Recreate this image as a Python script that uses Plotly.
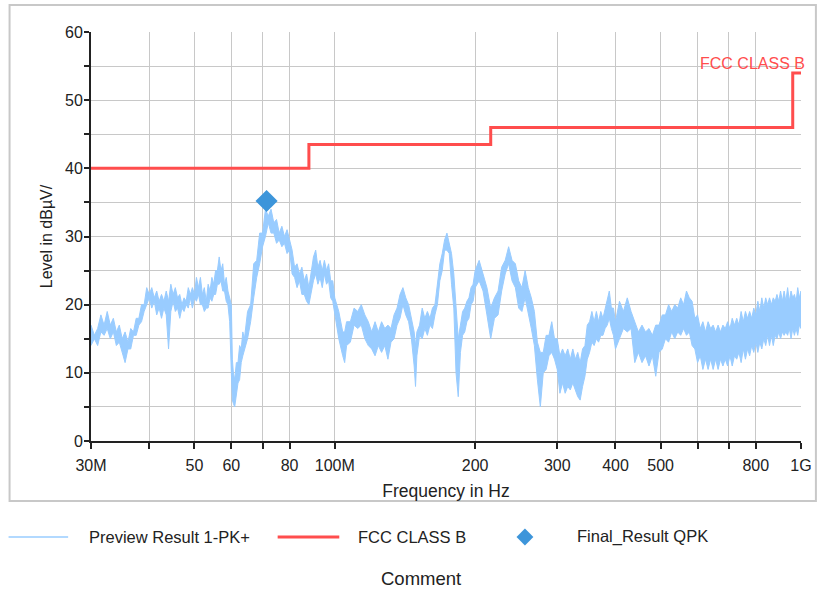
import plotly.graph_objects as go

# Preview Result 1-PK+ : the noisy trace read off the chart as a band,
# upper and lower level (dBuV) at each frequency (MHz)
preview_freq_mhz = [
    30, 30.5, 31, 31.5, 32, 32.5, 33, 33.5, 34, 34.5, 35, 35.5, 36, 36.5, 37, 37.5,
    38, 38.5, 39, 39.5, 40, 40.5, 41, 41.5, 42, 42.5, 43, 43.5, 44, 44.5, 45, 45.5,
    46, 46.5, 47, 47.5, 48, 48.5, 49, 49.5, 50, 50.5, 51, 51.5, 52, 52.5, 53, 53.5,
    54, 54.5, 55, 55.5, 56, 56.5, 57, 57.5, 58, 58.5, 59, 59.5, 60,
    60.3, 60.6, 61, 61.5, 62, 62.5, 63, 63.5, 64, 65, 66, 67, 68, 69, 70, 71, 72,
    73, 74, 75, 76, 77, 78, 79, 80, 81, 82, 83, 84, 85, 86, 87, 88, 89, 90, 91, 92,
    93, 94, 95, 96, 97, 98, 99, 100,
    102, 104, 105, 106, 108, 110, 112, 114, 116, 118, 120, 122, 124, 126, 128, 130,
    132, 134, 136, 138, 140, 142, 144, 146, 148, 149, 150, 152, 154, 156, 158, 160,
    162, 164, 166, 168, 170, 172, 174, 176, 178, 180, 182, 184, 186, 188, 190, 192,
    194, 196, 198, 200,
    204, 208, 212, 216, 220, 224, 228, 232, 236, 240, 244, 248, 252, 256, 260, 264,
    268, 272, 276, 280, 284, 288, 292, 296, 300, 304, 308, 312, 316, 320, 324, 328,
    332, 336, 340, 344, 348, 352, 356, 360, 364, 368, 372, 376, 380, 384, 388, 392,
    396, 400,
    408, 416, 424, 432, 440, 448, 456, 464, 472, 480, 488, 496, 504, 512, 520, 528,
    536, 544, 552, 560, 568, 576, 584, 592, 600, 608, 616, 624, 632, 640, 648, 656,
    664, 672, 680, 688, 696, 704, 712, 720, 728, 736, 744, 752, 760, 768, 776, 784,
    792, 800, 808, 816, 824, 832, 840, 848, 856, 864, 872, 880, 888, 896, 904, 912,
    920, 928, 936, 944, 952, 960, 968, 976, 984, 992, 1000,
]
preview_upper = [
    17, 15.5, 16.5, 18.5, 17, 19, 17, 18, 16, 17, 15, 16, 14.5, 16.5, 16, 18,
    18, 20, 20, 22.5, 21.5, 22.5, 21, 22, 20.5, 21.5, 20.5, 22, 20.5, 23, 21.5, 22.5,
    21, 21.5, 20, 21, 20.5, 22.5, 21.5, 22.5, 21.5, 24, 22.5, 24, 21.5, 22.5, 20.5, 23,
    22, 24, 23, 25, 25, 27, 25, 26, 23, 24, 22, 21, 20,
    12, 10, 9, 11.5, 11.5, 14, 13.5, 16, 15, 19, 20, 26, 26.5, 30.5, 30.5, 34, 33,
    34, 32, 32.5, 30.5, 31.5, 30, 31, 29.5, 28, 25.5, 26, 24.5, 25.5, 23.5, 24.5, 22.5, 25,
    27, 28, 25.5, 26.5, 25, 26.5, 25, 26, 23.5, 23.5, 21,
    19, 16, 16, 17.5, 17.5, 19.5, 19, 20, 18.5, 17.5, 16, 17.5, 16, 17.5, 16.5, 17,
    16.5, 18.5, 19.5, 21.5, 22.5, 21, 20, 18, 16, 14, 16, 17, 19.5, 18, 19, 18,
    19.5, 20, 23, 26, 27.5, 29.5, 30.5, 29, 27.5, 24.5, 19, 15, 17, 19, 19.5, 20.5,
    21, 22.5, 23, 25,
    26.5, 24.5, 22.5, 19.5, 21, 22, 25.5, 26.5, 28.5, 26.5, 26, 23.5, 22.5, 25, 22.5, 21,
    19, 14.5, 13, 13, 15.5, 15.5, 17.5, 15, 15, 12.5, 13.5, 12.5, 13.5, 12, 13.5, 12,
    13, 11.5, 13.5, 14, 17, 17.5, 19, 17.5, 19, 17.5, 19, 18, 19.5, 20.5, 22, 19.5,
    19.5, 17.5,
    20.5, 19, 21, 19, 17.5, 16, 17, 16, 16.5, 15.5, 17, 17, 18.5, 18.5, 20, 19,
    20, 19.5, 21, 20, 22, 21, 20.5, 18, 18.5, 16.5, 17.5, 16, 17.5, 16.5, 17, 16,
    17, 16, 17, 16.5, 17.5, 16.5, 18, 17, 18, 17, 19, 17.5, 19, 18, 19, 18,
    19.5, 18.5, 20.5, 19, 21, 19.5, 21, 20, 21, 20, 21, 20.5, 21.5, 20.5, 22, 20.5,
    22, 20.5, 22.5, 20.5, 22, 21, 21.5, 20.5, 22.5, 21, 22,
]
preview_lower = [
    14, 15, 14, 16, 15.5, 16.5, 15, 16, 14, 14.5, 13, 11.5, 13.5, 13.5, 15.5, 15.5,
    17, 17.5, 19, 20, 21, 19.5, 20.5, 18.5, 19.5, 18, 19.5, 18.5, 13.5, 19, 20.5, 19,
    19.5, 18, 19.5, 19, 20, 19.5, 21, 19.5, 21, 20.5, 21.5, 20, 20, 19, 19.5, 19.5,
    21, 20.5, 21.5, 21.5, 23, 23, 23.5, 22, 22, 20.5, 20, 17.5, 10,
    6, 5.5, 5, 6.5, 8.5, 9, 11.5, 12.5, 13.5, 15, 17.5, 21, 24, 26, 28.5, 30, 32,
    30.5, 30.5, 29, 29.5, 28.5, 29, 27.5, 28, 24.5, 24, 22.5, 23.5, 21.5, 21.5, 20.5, 20, 21.5,
    23.5, 24.5, 23, 24, 22.5, 24.5, 23, 23.5, 21, 20.5, 18.5,
    15, 12.5, 11.5, 14, 14.5, 17, 16.5, 17, 15, 14, 13.5, 12.5, 14, 13, 14, 12,
    14.5, 15, 17, 18, 20, 18.5, 17.5, 15, 11, 8, 12.5, 15.5, 15, 16.5, 15.5, 17,
    16.5, 18.5, 20, 23.5, 25, 28, 28, 27.5, 23, 19.5, 10, 6.5, 13, 15.5, 16, 17.5,
    18, 20, 20.5, 22.5,
    23.5, 22, 18.5, 15, 18, 18.5, 22, 24.5, 26, 23.5, 22.5, 19.5, 19, 21, 19, 16.5,
    14, 9, 5, 10, 10.5, 12.5, 13, 12, 10.5, 7, 8.5, 7, 8, 7.5, 8.5, 7.5,
    6.5, 6, 8, 9.5, 12, 13, 14.5, 14, 15, 14.5, 15.5, 15.5, 16.5, 17, 18, 16.5,
    15.5, 13.5,
    15, 16.5, 16, 16.5, 11.5, 13, 11.5, 12.5, 11, 12.5, 9.5, 13, 13.5, 15, 14.5, 16,
    15, 16, 15.5, 16.5, 15.5, 16, 14, 13.5, 11.5, 12.5, 10.5, 12, 10.5, 12, 10.5, 12,
    10.5, 12, 11, 12, 11, 12.5, 11, 12.5, 12, 13, 11.5, 13.5, 12, 13.5, 12.5, 14,
    13, 14.5, 13, 14.5, 13.5, 15, 14, 15.5, 14, 15.5, 14, 15.5, 15, 16, 15, 16,
    15.5, 16, 15.5, 16.5, 15, 16.5, 15.5, 16.5, 15.5, 17, 16.5,
]

# FCC CLASS B limit line
limit_freq_mhz = [30, 88, 88, 216, 216, 960, 960, 1000]
limit_level = [40, 40, 43.5, 43.5, 46, 46, 54, 54]

# Final_Result QPK
final_freq_mhz = [71.4]
final_level = [35.2]

x_tickvals = [30, 40, 50, 60, 70, 80, 100, 200, 300, 400, 500, 600, 700, 800, 1000]
x_ticktext = ["30M", "", "50", "60", "", "80", "100M", "200", "300", "400", "500", "", "", "800", "1G"]
y_tickvals = [0, 5, 10, 15, 20, 25, 30, 35, 40, 45, 50, 55, 60]
y_ticktext = ["0", "", "10", "", "20", "", "30", "", "40", "", "50", "", "60"]

BLUE_LIGHT = "#99CCFF"
RED = "#FF4D4D"
BLUE = "#3D95DA"
INK = "#222222"
GRID = "#C8C8C8"
FONT = "Liberation Sans, Arial, sans-serif"

fig = go.Figure()

# the peak trace is so dense that it reads as a filled band
fig.add_trace(go.Scatter(
    x=preview_freq_mhz + preview_freq_mhz[::-1],
    y=preview_upper + preview_lower[::-1],
    mode="lines", fill="toself", fillcolor=BLUE_LIGHT,
    name="Preview Result 1-PK+", line=dict(color=BLUE_LIGHT, width=1),
    showlegend=False,
))
fig.add_trace(go.Scatter(
    x=limit_freq_mhz, y=limit_level, mode="lines",
    name="FCC CLASS B", line=dict(color=RED, width=3),
    showlegend=False,
))
fig.add_trace(go.Scatter(
    x=final_freq_mhz, y=final_level, mode="markers",
    name="Final_Result QPK",
    marker=dict(symbol="diamond", size=17, color=BLUE),
    showlegend=False,
))

axis_common = dict(
    showline=True, linecolor=INK, linewidth=2,
    tickcolor=INK, tickwidth=2, zeroline=False,
    tickfont=dict(size=16, color=INK),
)

fig.update_layout(
    width=824, height=590,
    margin=dict(l=91, r=18, t=32, b=149),
    paper_bgcolor="white", plot_bgcolor="white",
    font=dict(family=FONT, color=INK),
    xaxis=dict(
        type="log", range=[1.4771, 3],
        tickmode="array", tickvals=x_tickvals, ticktext=x_ticktext,
        ticks="outside", ticklen=6, ticklabelstandoff=3,
        showgrid=True, gridcolor=GRID, gridwidth=1,
        title=dict(text="Frequency in Hz", font=dict(size=17.5, color=INK), standoff=12),
        **axis_common,
    ),
    yaxis=dict(
        range=[0, 60],
        tickmode="array", tickvals=y_tickvals, ticktext=y_ticktext,
        ticks="outside", ticklen=5, ticklabelstandoff=-2,
        showgrid=True, gridcolor=GRID, gridwidth=1,
        title=dict(text="Level in dBµV/", font=dict(size=16, color=INK), standoff=8),
        **axis_common,
    ),
    # second set of axes only to draw the inner half of the crossing ticks
    xaxis2=dict(
        type="log", range=[1.4771, 3], overlaying="x", anchor="y",
        tickmode="array", tickvals=x_tickvals, showticklabels=False,
        ticks="inside", ticklen=6, tickwidth=2, tickcolor=INK,
        showgrid=False, showline=False, zeroline=False,
    ),
    yaxis2=dict(
        range=[0, 60], overlaying="y", anchor="x",
        tickmode="array", tickvals=y_tickvals, showticklabels=False,
        ticks="inside", ticklen=7, tickwidth=2, tickcolor=INK,
        showgrid=False, showline=False, zeroline=False,
    ),
)

# outer frame
fig.add_shape(type="rect", xref="paper", yref="paper",
              x0=-0.1147, x1=1.021, y0=-0.1467, y1=1.066,
              line=dict(color=GRID, width=2), layer="below")

# limit label
fig.add_annotation(text="FCC CLASS B", xref="paper", yref="paper",
                   x=1.0084, y=0.9235, xanchor="right", yanchor="middle",
                   showarrow=False, font=dict(size=16, color=RED))

# legend drawn below the frame
ly = -0.2347
fig.add_shape(type="line", xref="paper", yref="paper",
              x0=-0.1161, x1=-0.0322, y0=ly, y1=ly,
              line=dict(color=BLUE_LIGHT, width=1.6))
fig.add_shape(type="line", xref="paper", yref="paper",
              x0=0.2629, x1=0.3497, y0=ly, y1=ly,
              line=dict(color=RED, width=3))
dx, dy = 8.5 / 715, 8.5 / 409
cx = 0.6112
fig.add_shape(type="path", xref="paper", yref="paper",
              path=f"M {cx - dx} {ly} L {cx} {ly + dy} L {cx + dx} {ly} L {cx} {ly - dy} Z",
              fillcolor=BLUE, line=dict(width=0))
for label, x in [("Preview Result 1-PK+", -0.0056), ("FCC CLASS B", 0.3734), ("Final_Result QPK", 0.6811)]:
    fig.add_annotation(text=label, xref="paper", yref="paper", x=x, y=ly,
                       xanchor="left", yanchor="middle", showarrow=False,
                       font=dict(size=16.5, color=INK))
fig.add_annotation(text="Comment", xref="paper", yref="paper", x=0.4643, y=-0.335,
                   xanchor="center", yanchor="middle", showarrow=False,
                   font=dict(size=18.5, color=INK))

# the page's default 8px body margin would push the figure out of the window
fig.write_html("out.html", config={"displayModeBar": False},
               post_script="document.body.style.margin = '0';")
